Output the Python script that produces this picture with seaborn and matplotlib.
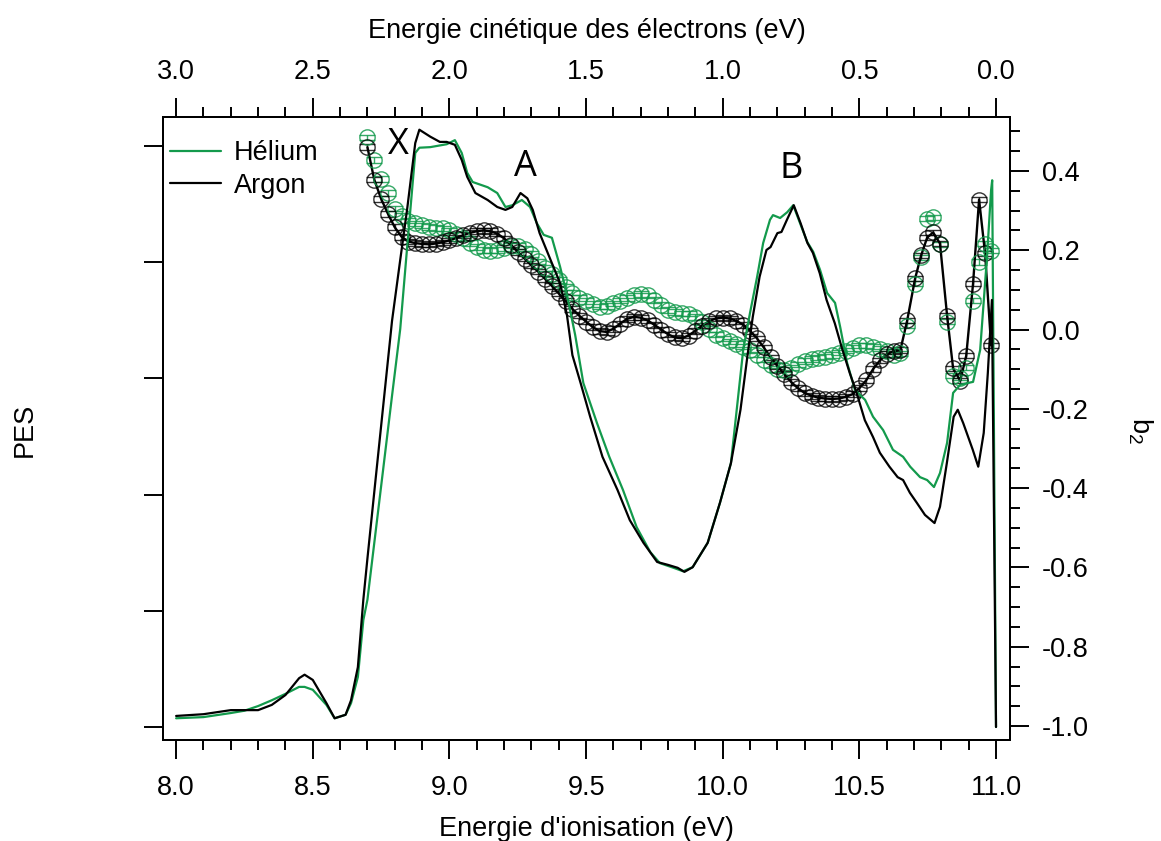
import matplotlib
matplotlib.use("Agg")
import numpy as np
import pandas as pd
import matplotlib.pyplot as plt
from matplotlib.lines import Line2D
from matplotlib.ticker import MultipleLocator
import seaborn as sns

# %% PES spectra (left axis, arbitrary units)
ar_pes_ie = [8.00, 8.10, 8.20, 8.25, 8.30, 8.35, 8.40, 8.45, 8.47, 8.50, 8.55, 8.58, 8.62, 8.64, 8.665, 8.685,
             8.70, 8.73, 8.76, 8.79, 8.82, 8.845, 8.875, 8.89, 8.93, 8.965, 8.99, 9.02, 9.045, 9.065, 9.095,
             9.14, 9.175, 9.205, 9.23, 9.26, 9.285, 9.305, 9.33, 9.37, 9.405, 9.43, 9.45, 9.48, 9.515, 9.56,
             9.615, 9.66, 9.71, 9.76, 9.80, 9.835, 9.86, 9.89, 9.945, 9.99, 10.03, 10.065, 10.09, 10.11,
             10.135, 10.16, 10.175, 10.20, 10.215, 10.235, 10.26, 10.285, 10.31, 10.33, 10.355, 10.38, 10.41,
             10.435, 10.465, 10.49, 10.52, 10.55, 10.575, 10.61, 10.64, 10.66, 10.685, 10.71, 10.74, 10.775,
             10.795, 10.82, 10.845, 10.86, 10.88, 10.915, 10.935, 10.955, 10.97, 10.985, 11.00]
ar_pes = [0.019, 0.022, 0.029, 0.029, 0.029, 0.038, 0.055, 0.084, 0.090, 0.081, 0.041, 0.015, 0.021, 0.046, 0.103,
          0.219, 0.29, 0.427, 0.563, 0.699, 0.804, 0.890, 1.005, 1.028, 1.016, 1.007, 1.007, 1.002, 0.976, 0.947,
          0.919, 0.907, 0.895, 0.890, 0.895, 0.919, 0.910, 0.890, 0.850, 0.804, 0.764, 0.709, 0.640, 0.592, 0.534,
          0.465, 0.408, 0.356, 0.317, 0.284, 0.279, 0.274, 0.267, 0.275, 0.317, 0.386, 0.454, 0.546, 0.637, 0.706,
          0.775, 0.821, 0.826, 0.850, 0.852, 0.873, 0.898, 0.867, 0.833, 0.816, 0.781, 0.735, 0.695, 0.654, 0.609,
          0.575, 0.528, 0.499, 0.472, 0.448, 0.430, 0.425, 0.403, 0.386, 0.365, 0.351, 0.379, 0.454, 0.534, 0.546,
          0.523, 0.477, 0.448, 0.506, 0.609, 0.735, 0.0]

he_pes_ie = [8.00, 8.10, 8.20, 8.25, 8.30, 8.35, 8.40, 8.45, 8.47, 8.50, 8.55, 8.58, 8.62, 8.64, 8.665, 8.685,
             8.70, 8.73, 8.76, 8.79, 8.82, 8.845, 8.875, 8.89, 8.93, 8.99, 9.02, 9.045, 9.065, 9.085, 9.14,
             9.175, 9.205, 9.23, 9.265, 9.295, 9.32, 9.345, 9.375, 9.405, 9.43, 9.46, 9.49, 9.54, 9.585, 9.635,
             9.685, 9.735, 9.77, 9.82, 9.855, 9.89, 9.945, 9.99, 10.03, 10.075, 10.10, 10.126, 10.148, 10.173,
             10.184, 10.21, 10.236, 10.258, 10.283, 10.309, 10.331, 10.356, 10.382, 10.411, 10.43, 10.455,
             10.484, 10.521, 10.55, 10.587, 10.623, 10.66, 10.686, 10.722, 10.748, 10.773, 10.795, 10.821,
             10.843, 10.869, 10.916, 10.942, 10.967, 10.982, 10.986, 11.00]
he_pes = [0.015, 0.017, 0.024, 0.028, 0.036, 0.046, 0.057, 0.069, 0.069, 0.064, 0.038, 0.015, 0.021, 0.041, 0.086,
          0.184, 0.219, 0.336, 0.453, 0.570, 0.685, 0.824, 0.988, 0.997, 0.998, 1.003, 1.010, 0.988, 0.954, 0.938,
          0.929, 0.919, 0.895, 0.898, 0.907, 0.895, 0.867, 0.847, 0.842, 0.792, 0.744, 0.675, 0.592, 0.523, 0.465,
          0.408, 0.344, 0.301, 0.282, 0.274, 0.268, 0.275, 0.317, 0.386, 0.454, 0.649, 0.713, 0.775, 0.833, 0.873,
          0.881, 0.876, 0.886, 0.898, 0.867, 0.835, 0.818, 0.787, 0.747, 0.730, 0.688, 0.627, 0.580, 0.563, 0.534,
          0.511, 0.477, 0.465, 0.448, 0.430, 0.425, 0.413, 0.437, 0.489, 0.575, 0.589, 0.594, 0.649, 0.809, 0.924,
          0.941, 0.0]

# %% anisotropy parameter b2 (right axis)
b2_ie = [8.700, 8.725, 8.750, 8.775, 8.800, 8.825, 8.850, 8.875, 8.900, 8.925,
         8.950, 8.975, 9.000, 9.025, 9.050, 9.075, 9.100, 9.125, 9.150, 9.175,
         9.200, 9.225, 9.250, 9.275, 9.300, 9.325, 9.350, 9.375, 9.400, 9.425,
         9.450, 9.475, 9.500, 9.525, 9.550, 9.575, 9.600, 9.625, 9.650, 9.675,
         9.700, 9.725, 9.750, 9.775, 9.800, 9.825, 9.850, 9.875, 9.900, 9.925,
         9.950, 9.975, 10.000, 10.025, 10.050, 10.075, 10.100, 10.125, 10.150, 10.175,
         10.200, 10.225, 10.250, 10.275, 10.300, 10.325, 10.350, 10.375, 10.400, 10.425,
         10.450, 10.475, 10.500, 10.525, 10.550, 10.575, 10.600, 10.625, 10.650,
         10.675, 10.704, 10.726, 10.748, 10.770, 10.795, 10.821, 10.843, 10.869, 10.891,
         10.916, 10.938, 10.960, 10.982]
ar_b2 = [0.460, 0.378, 0.330, 0.292, 0.258, 0.234, 0.222, 0.218, 0.216, 0.215,
         0.217, 0.220, 0.225, 0.231, 0.238, 0.244, 0.248, 0.250, 0.248, 0.242,
         0.230, 0.214, 0.196, 0.179, 0.162, 0.146, 0.128, 0.110, 0.091, 0.072,
         0.052, 0.035, 0.020, 0.006, -0.004, -0.006, 0.002, 0.015, 0.027, 0.032,
         0.030, 0.023, 0.012, 0.000, -0.012, -0.020, -0.022, -0.015, -0.003, 0.010,
         0.021, 0.028, 0.030, 0.028, 0.022, 0.012, -0.003, -0.022, -0.045, -0.070,
         -0.092, -0.112, -0.132, -0.148, -0.160, -0.167, -0.172, -0.174, -0.175, -0.174,
         -0.170, -0.163, -0.148, -0.128, -0.100, -0.078, -0.062, -0.055, -0.052,
         0.023, 0.129, 0.187, 0.232, 0.245, 0.217, 0.035, -0.098, -0.129, -0.066,
         0.116, 0.328, 0.192, -0.040]
he_b2 = [0.485, 0.428, 0.380, 0.345, 0.305, 0.286, 0.275, 0.268, 0.263, 0.258,
         0.256, 0.255, 0.250, 0.240, 0.230, 0.218, 0.208, 0.201, 0.199, 0.200,
         0.206, 0.212, 0.211, 0.204, 0.190, 0.172, 0.155, 0.140, 0.125, 0.108,
         0.093, 0.080, 0.072, 0.064, 0.058, 0.060, 0.066, 0.073, 0.080, 0.086,
         0.090, 0.086, 0.075, 0.062, 0.050, 0.044, 0.041, 0.040, 0.032, 0.018,
         0.002, -0.013, -0.022, -0.030, -0.036, -0.043, -0.052, -0.063, -0.076, -0.090,
         -0.100, -0.101, -0.096, -0.088, -0.080, -0.074, -0.071, -0.068, -0.064, -0.058,
         -0.053, -0.046, -0.040, -0.040, -0.043, -0.048, -0.055, -0.063, -0.060,
         0.010, 0.116, 0.182, 0.280, 0.283, 0.215, 0.020, -0.116, -0.121, -0.096,
         0.073, 0.170, 0.217, 0.199]
b2_err = 0.007

# %% style
sns.set_theme(style="ticks")
plt.rcParams["font.family"] = ["Liberation Sans", "DejaVu Sans"]
plt.rcParams["axes.unicode_minus"] = False
plt.rcParams["text.color"] = "black"
green = "#139a4c"
fs = 19.5

fig = plt.figure(figsize=(11.61, 8.41), dpi=100)
ax = fig.add_axes([0.1404, 0.1201, 0.7295, 0.7408])
ax2 = ax.twinx()
# PES on top of the b2 markers
ax.set_zorder(ax2.get_zorder() + 1)
ax.patch.set_visible(False)

# %% PES lines
pes = pd.concat([
    pd.DataFrame({"ie": he_pes_ie, "pes": he_pes, "gaz": "Hélium"}),
    pd.DataFrame({"ie": ar_pes_ie, "pes": ar_pes, "gaz": "Argon"}),
])
sns.lineplot(data=pes, x="ie", y="pes", hue="gaz", palette={"Hélium": green, "Argon": "black"},
             sort=False, estimator=None, linewidth=1.6, ax=ax, legend=False)

# %% b2 with error bars
ax2.errorbar(b2_ie, he_b2, yerr=b2_err, fmt="o", ms=11, mfc="none", mec=green, mew=1.0,
             ecolor=green, elinewidth=1.0, capsize=6, capthick=1.3, alpha=0.85)
sns.lineplot(x=b2_ie, y=ar_b2, color="black", linewidth=1.7, sort=False, estimator=None, ax=ax2)
ax2.errorbar(b2_ie, ar_b2, yerr=b2_err, fmt="o", ms=11, mfc="none", mec="black", mew=1.0,
             ecolor="black", elinewidth=1.0, capsize=6, capthick=1.3, alpha=0.8)

# %% axes
ax.set_xlim(7.952, 11.051)
ax.set_ylim(-0.0224, 1.0499)
ax2.set_ylim(-1.0353, 0.5362)
ax.xaxis.set_major_locator(MultipleLocator(0.5))
ax.xaxis.set_minor_locator(MultipleLocator(0.1))
ax.yaxis.set_major_locator(MultipleLocator(0.2))
ax2.yaxis.set_major_locator(MultipleLocator(0.2))
ax2.yaxis.set_minor_locator(MultipleLocator(0.05))
ax.tick_params(axis="y", labelleft=False)
ax.set_ylabel("")
ax2.set_ylabel("")

secax = ax.secondary_xaxis("top", functions=(lambda x: 11 - x, lambda x: 11 - x))
secax.xaxis.set_major_locator(MultipleLocator(0.5))
secax.xaxis.set_minor_locator(MultipleLocator(0.1))

for a in (ax, ax2, secax):
    a.tick_params(which="major", direction="out", length=14, width=1.4, color="black",
                  labelsize=fs, labelcolor="black", pad=9)
    a.tick_params(which="minor", direction="out", length=7, width=1.4, color="black")
ax.tick_params(axis="x", pad=11)
for a in (ax, ax2):
    for sp in a.spines.values():
        sp.set_linewidth(1.4)
        sp.set_color("black")
secax.spines["top"].set_linewidth(1.4)
secax.spines["top"].set_color("black")

ax.set_xlabel("Energie d'ionisation (eV)", fontsize=fs, color="black", labelpad=11)
secax.set_xlabel("Energie cinétique des électrons (eV)", fontsize=fs, color="black", labelpad=15)
fig.text(25 / 1161, 1 - 430 / 841, "PES", rotation=90, ha="center", va="center", fontsize=fs)
fig.text(1140 / 1161, 1 - 430 / 841, r"b$_\mathregular{2}$", rotation=270, ha="center", va="center", fontsize=fs)

# %% peak labels
for lab, xpos, ypos in [("X", 8.814, 0.444), ("A", 9.277, 0.388), ("B", 10.250, 0.383)]:
    ax2.text(xpos, ypos, lab, fontsize=26, family=["Open Sans", "DejaVu Sans"], ha="center",
             va="baseline", color="black")

# %% legend
handles = [Line2D([], [], color=green, lw=1.6), Line2D([], [], color="black", lw=1.6)]
leg = ax.legend(handles, ["Hélium", "Argon"], loc="upper left", bbox_to_anchor=(0.0083, 0.963), frameon=False,
                fontsize=19.5, handlelength=1.9, handletextpad=0.45, labelspacing=0.25, borderaxespad=0,
                borderpad=0)
for t in leg.get_texts():
    t.set_color("black")

fig.savefig("out.png", dpi=100)
